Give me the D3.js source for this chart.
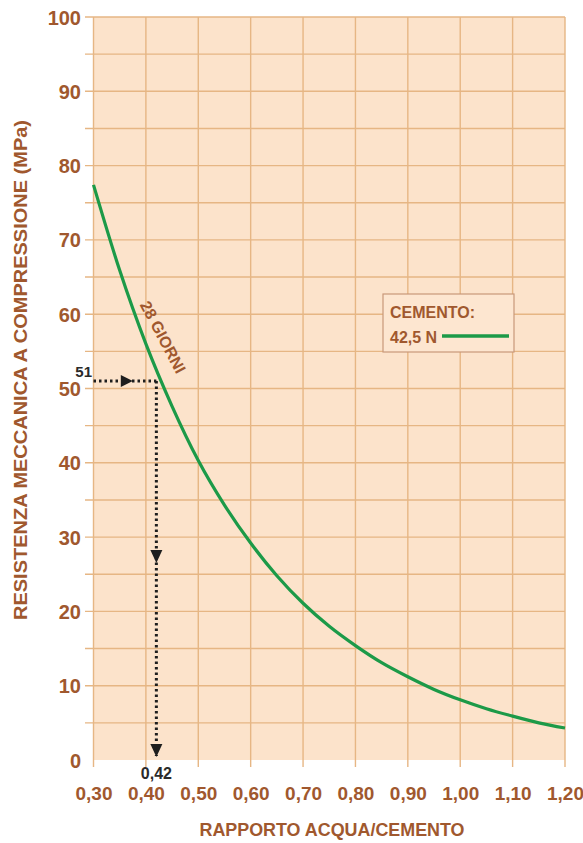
<!DOCTYPE html>
<html>
<head>
<meta charset="utf-8">
<script src="https://cdn.jsdelivr.net/npm/d3@7"></script>
<style>
  html, body { margin: 0; padding: 0; background: #ffffff; }
  svg { display: block; }
  text { font-family: "Liberation Sans Narrow", "Arial Narrow", "Liberation Sans", Arial, sans-serif; font-weight: bold; }
</style>
</head>
<body>
<svg id="chart" width="583" height="843"></svg>
<script>
// ---- data ----
const xTicks = [0.30, 0.40, 0.50, 0.60, 0.70, 0.80, 0.90, 1.00, 1.10, 1.20];
const xTickLabels = ["0,30", "0,40", "0,50", "0,60", "0,70", "0,80", "0,90", "1,00", "1,10", "1,20"];
const yTicks = [0, 10, 20, 30, 40, 50, 60, 70, 80, 90, 100];
const yGrid = [5, 10, 15, 20, 25, 30, 35, 40, 45, 50, 55, 60, 65, 70, 75, 80, 85, 90, 95, 100];
const waterCement = [0.30, 0.35, 0.40, 0.45, 0.50, 0.55, 0.60, 0.65, 0.70, 0.75, 0.80, 0.85, 0.90, 0.95, 1.00, 1.05, 1.10, 1.15, 1.20];
const strength28 = [77.4, 65.9, 56.0, 47.6, 40.3, 34.3, 29.2, 24.8, 21.1, 18.0, 15.4, 13.1, 11.2, 9.5, 8.1, 6.9, 5.9, 5.0, 4.3];
const readX = 0.42;
const readY = 51;
const readXLabel = "0,42";
const readYLabel = "51";
const seriesLabel = "28 GIORNI";
const legendTitle = "CEMENTO:";
const legendItem = "42,5 N";
const xTitle = "RAPPORTO ACQUA/CEMENTO";
const yTitle = "RESISTENZA MECCANICA A COMPRESSIONE (MPa)";

// ---- styles ----
const brown = "#a0582e";
const gridCol = "#e6b684";
const bgCol = "#fce3cb";
const green = "#1c9a48";
const dark = "#1e1e1e";

const svg = d3.select("#chart");
const x = d3.scaleLinear().domain([0.30, 1.20]).range([93.5, 565]);
const y = d3.scaleLinear().domain([0, 100]).range([760, 17]);

// plot background
svg.append("rect")
  .attr("x", x(0.30)).attr("y", y(100))
  .attr("width", x(1.20) - x(0.30)).attr("height", y(0) - y(100))
  .attr("fill", bgCol);

// horizontal grid (extends left as ticks)
svg.append("g").selectAll("line").data(yGrid).join("line")
  .attr("x1", 85).attr("x2", x(1.20))
  .attr("y1", d => y(d)).attr("y2", d => y(d))
  .attr("stroke", gridCol).attr("stroke-width", 1.4);

// vertical grid (extends down as ticks)
svg.append("g").selectAll("line").data(xTicks).join("line")
  .attr("x1", d => x(d)).attr("x2", d => x(d))
  .attr("y1", y(100)).attr("y2", 767)
  .attr("stroke", gridCol).attr("stroke-width", 1.4);

// y axis labels
const yAxis = d3.axisLeft(y).tickValues(yTicks).tickSize(0).tickPadding(0).tickFormat(d3.format("d"));
const gy = svg.append("g").attr("transform", "translate(81,0)").call(yAxis);
gy.select(".domain").remove();
gy.selectAll("text").attr("fill", brown).style("font-size", "20px").attr("dy", "0.35em");

// x axis labels
const xAxis = d3.axisBottom(x).tickValues(xTicks).tickSize(0).tickPadding(0)
  .tickFormat((d, i) => xTickLabels[i]);
const gx = svg.append("g").attr("transform", "translate(0,786)").call(xAxis);
gx.select(".domain").remove();
gx.selectAll("text").attr("fill", brown).style("font-size", "19px").attr("dy", "0.71em");

// curve
const line = d3.line().x(d => x(d[0])).y(d => y(d[1])).curve(d3.curveMonotoneX);
svg.append("path")
  .datum(waterCement.map((w, i) => [w, strength28[i]]))
  .attr("d", line)
  .attr("fill", "none").attr("stroke", green).attr("stroke-width", 3.2);

// series label
svg.append("text")
  .attr("transform", `translate(163,337) rotate(62)`)
  .attr("text-anchor", "middle").attr("dy", "0.35em")
  .attr("fill", brown).style("font-size", "16px")
  .text(seriesLabel);

// reading annotation
const ax = x(readX), ay = y(readY);
svg.append("line").attr("x1", x(0.30)).attr("x2", ax).attr("y1", ay).attr("y2", ay)
  .attr("stroke", dark).attr("stroke-width", 3).attr("stroke-dasharray", "2.5,3");
svg.append("line").attr("x1", ax).attr("x2", ax).attr("y1", ay).attr("y2", y(0) - 4)
  .attr("stroke", dark).attr("stroke-width", 3).attr("stroke-dasharray", "2.5,3");
// arrowheads
const arrowRight = (tx, ty) => `M${tx},${ty} L${tx - 12},${ty - 6} L${tx - 12},${ty + 6} Z`;
const arrowDown = (tx, ty) => `M${tx},${ty} L${tx - 6},${ty - 13} L${tx + 6},${ty - 13} Z`;
svg.append("path").attr("d", arrowRight(x(0.375), ay)).attr("fill", dark);
svg.append("path").attr("d", arrowDown(ax, y(26.5))).attr("fill", dark);
svg.append("path").attr("d", arrowDown(ax, y(0.4))).attr("fill", dark);

svg.append("text").attr("x", 92).attr("y", ay - 4).attr("text-anchor", "end")
  .attr("fill", "#2a2a2a").style("font-size", "15px").text(readYLabel);
svg.append("text").attr("x", ax).attr("y", 779).attr("text-anchor", "middle")
  .attr("fill", "#2a2a2a").style("font-size", "16px").text(readXLabel);

// legend
const lg = svg.append("g");
lg.append("rect").attr("x", 383).attr("y", 294).attr("width", 131).attr("height", 58)
  .attr("fill", "#fde6d0").attr("stroke", "#c9987a").attr("stroke-width", 1.2);
lg.append("text").attr("x", 390).attr("y", 318).attr("fill", brown).style("font-size", "16px").text(legendTitle);
lg.append("text").attr("x", 390).attr("y", 343).attr("fill", brown).style("font-size", "16px").text(legendItem);
lg.append("line").attr("x1", 442).attr("x2", 509).attr("y1", 336).attr("y2", 336)
  .attr("stroke", green).attr("stroke-width", 3.5);

// axis titles
svg.append("text").attr("x", 332).attr("y", 836).attr("text-anchor", "middle")
  .attr("fill", brown).style("font-size", "18px")
  .attr("textLength", 265).attr("lengthAdjust", "spacingAndGlyphs")
  .text(xTitle);
svg.append("text").attr("transform", "translate(27,370) rotate(-90)")
  .attr("text-anchor", "middle")
  .attr("fill", brown).style("font-size", "18px")
  .attr("textLength", 500).attr("lengthAdjust", "spacingAndGlyphs")
  .text(yTitle);
</script>
</body>
</html>
